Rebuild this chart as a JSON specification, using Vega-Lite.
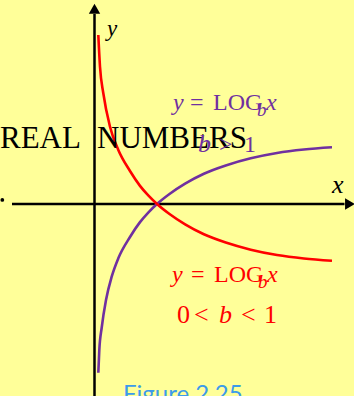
{
  "$schema": "https://vega.github.io/schema/vega-lite/v6.json",
  "width": 354,
  "height": 396,
  "padding": 0,
  "autosize": "none",
  "background": "#FFFF99",
  "config": {"view": {"stroke": null}},
  "datasets": {
    "curves": [
      {"curve": "increasing", "x": 0.061, "y": -3.067},
      {"curve": "increasing", "x": 0.077, "y": -2.655},
      {"curve": "increasing", "x": 0.115, "y": -2.25},
      {"curve": "increasing", "x": 0.184, "y": -1.745},
      {"curve": "increasing", "x": 0.275, "y": -1.322},
      {"curve": "increasing", "x": 0.381, "y": -0.987},
      {"curve": "increasing", "x": 0.568, "y": -0.6},
      {"curve": "increasing", "x": 0.728, "y": -0.33},
      {"curve": "increasing", "x": 0.86, "y": -0.155},
      {"curve": "increasing", "x": 1.0, "y": 0.0},
      {"curve": "increasing", "x": 1.2, "y": 0.182},
      {"curve": "increasing", "x": 1.45, "y": 0.37},
      {"curve": "increasing", "x": 1.75, "y": 0.55},
      {"curve": "increasing", "x": 2.1, "y": 0.7},
      {"curve": "increasing", "x": 2.5, "y": 0.83},
      {"curve": "increasing", "x": 2.92, "y": 0.927},
      {"curve": "increasing", "x": 3.35, "y": 0.99},
      {"curve": "increasing", "x": 3.8, "y": 1.031},
      {"curve": "decreasing", "x": 0.061, "y": 3.073},
      {"curve": "decreasing", "x": 0.088, "y": 2.496},
      {"curve": "decreasing", "x": 0.141, "y": 2.013},
      {"curve": "decreasing", "x": 0.248, "y": 1.405},
      {"curve": "decreasing", "x": 0.381, "y": 0.982},
      {"curve": "decreasing", "x": 0.568, "y": 0.6},
      {"curve": "decreasing", "x": 0.728, "y": 0.33},
      {"curve": "decreasing", "x": 0.86, "y": 0.155},
      {"curve": "decreasing", "x": 1.0, "y": 0.0},
      {"curve": "decreasing", "x": 1.2, "y": -0.182},
      {"curve": "decreasing", "x": 1.45, "y": -0.37},
      {"curve": "decreasing", "x": 1.75, "y": -0.55},
      {"curve": "decreasing", "x": 2.1, "y": -0.7},
      {"curve": "decreasing", "x": 2.5, "y": -0.83},
      {"curve": "decreasing", "x": 2.92, "y": -0.927},
      {"curve": "decreasing", "x": 3.35, "y": -0.99},
      {"curve": "decreasing", "x": 3.8, "y": -1.031}
    ],
    "axes": [
      {"axis": "y", "x": 0, "x2": 0, "y": 3.455, "y2": -3.6},
      {"axis": "x", "x": -1.32, "x2": 4.0, "y": 0, "y2": 0}
    ],
    "arrows": [
      {"dir": "up", "x": 0, "y": 3.551},
      {"dir": "right", "x": 4.088, "y": 0}
    ],
    "dots": [
      {"x": -1.475, "y": 0.073}
    ],
    "labels": [
      {"kind": "title", "series": "black", "text": "REAL", "x": -1.512, "y": 1.018},
      {"kind": "title", "series": "black", "text": "NUMBERS", "x": 0.04, "y": 1.018},
      {"kind": "axisY", "series": "black", "text": "y", "x": 0.2, "y": 3.055},
      {"kind": "axisX", "series": "black", "text": "x", "x": 3.8, "y": 0.2},
      {"kind": "eqItalic", "series": "increasing", "text": "y", "x": 1.256, "y": 1.709},
      {"kind": "eqRoman", "series": "increasing", "text": "=", "x": 1.528, "y": 1.709},
      {"kind": "eqRoman", "series": "increasing", "text": "LOG", "x": 1.896, "y": 1.709},
      {"kind": "eqSub", "series": "increasing", "text": "b", "x": 2.6, "y": 1.6},
      {"kind": "eqItalic", "series": "increasing", "text": "x", "x": 2.744, "y": 1.709},
      {"kind": "condItalicP", "series": "increasing", "text": "b", "x": 1.656, "y": 0.945},
      {"kind": "condRomanP", "series": "increasing", "text": ">", "x": 1.992, "y": 0.945},
      {"kind": "condRomanP", "series": "increasing", "text": "1", "x": 2.392, "y": 0.945},
      {"kind": "eqItalic", "series": "decreasing", "text": "y", "x": 1.24, "y": -1.418},
      {"kind": "eqRoman", "series": "decreasing", "text": "=", "x": 1.544, "y": -1.418},
      {"kind": "eqRoman", "series": "decreasing", "text": "LOG", "x": 1.912, "y": -1.418},
      {"kind": "eqSub", "series": "decreasing", "text": "b", "x": 2.616, "y": -1.527},
      {"kind": "eqItalic", "series": "decreasing", "text": "x", "x": 2.76, "y": -1.418},
      {"kind": "condRomanR", "series": "decreasing", "text": "0", "x": 1.32, "y": -2.164},
      {"kind": "condRomanR", "series": "decreasing", "text": "<", "x": 1.592, "y": -2.164},
      {"kind": "condItalicR", "series": "decreasing", "text": "b", "x": 1.992, "y": -2.164},
      {"kind": "condRomanR", "series": "decreasing", "text": "<", "x": 2.344, "y": -2.164},
      {"kind": "condRomanR", "series": "decreasing", "text": "1", "x": 2.712, "y": -2.164},
      {"kind": "caption", "series": "caption", "text": "Figure 2.25", "x": 0.456, "y": -3.6}
    ]
  },
  "encoding": {
    "x": {"field": "x", "type": "quantitative", "axis": null, "scale": {"domain": [-1.512, 4.152], "nice": false, "zero": false}},
    "y": {"field": "y", "type": "quantitative", "axis": null, "scale": {"domain": [-3.491, 3.709], "nice": false, "zero": false}}
  },
  "layer": [
    {
      "data": {"name": "axes"},
      "mark": {"type": "rule", "color": "#000000", "strokeWidth": 2.5},
      "encoding": {
        "x2": {"field": "x2"},
        "y2": {"field": "y2"}
      }
    },
    {
      "data": {"name": "arrows"},
      "mark": {"type": "point", "filled": true, "opacity": 1, "color": "#000000", "size": 130},
      "encoding": {
        "shape": {"field": "dir", "type": "nominal", "legend": null, "scale": {"domain": ["up", "right"], "range": ["triangle-up", "triangle-right"]}}
      }
    },
    {
      "data": {"name": "dots"},
      "mark": {"type": "point", "shape": "circle", "filled": true, "opacity": 1, "color": "#000000", "size": 14}
    },
    {
      "data": {"name": "curves"},
      "mark": {"type": "line", "strokeWidth": 2.6, "interpolate": "monotone"},
      "encoding": {
        "detail": {"field": "curve", "type": "nominal"},
        "color": {"field": "curve", "type": "nominal", "legend": null, "scale": {"domain": ["increasing", "decreasing", "black", "caption"], "range": ["#7030A0", "#FF0000", "#000000", "#3C9BEA"]}}
      }
    },
    {
      "data": {"name": "labels"},
      "transform": [{"filter": "datum.kind === 'title'"}],
      "mark": {"type": "text", "align": "left", "baseline": "alphabetic", "font": "Liberation Serif", "fontSize": 31},
      "encoding": {
        "text": {"field": "text"},
        "color": {"field": "series", "type": "nominal", "legend": null}
      }
    },
    {
      "data": {"name": "labels"},
      "transform": [{"filter": "datum.kind === 'axisY'"}],
      "mark": {"type": "text", "align": "left", "baseline": "alphabetic", "font": "Liberation Serif", "fontStyle": "italic", "fontSize": 23},
      "encoding": {
        "text": {"field": "text"},
        "color": {"field": "series", "type": "nominal", "legend": null}
      }
    },
    {
      "data": {"name": "labels"},
      "transform": [{"filter": "datum.kind === 'axisX'"}],
      "mark": {"type": "text", "align": "left", "baseline": "alphabetic", "font": "Liberation Serif", "fontStyle": "italic", "fontSize": 26},
      "encoding": {
        "text": {"field": "text"},
        "color": {"field": "series", "type": "nominal", "legend": null}
      }
    },
    {
      "data": {"name": "labels"},
      "transform": [{"filter": "datum.kind === 'eqItalic'"}],
      "mark": {"type": "text", "align": "left", "baseline": "alphabetic", "font": "Liberation Serif", "fontStyle": "italic", "fontSize": 24},
      "encoding": {
        "text": {"field": "text"},
        "color": {"field": "series", "type": "nominal", "legend": null}
      }
    },
    {
      "data": {"name": "labels"},
      "transform": [{"filter": "datum.kind === 'eqRoman'"}],
      "mark": {"type": "text", "align": "left", "baseline": "alphabetic", "font": "Liberation Serif", "fontSize": 24},
      "encoding": {
        "text": {"field": "text"},
        "color": {"field": "series", "type": "nominal", "legend": null}
      }
    },
    {
      "data": {"name": "labels"},
      "transform": [{"filter": "datum.kind === 'eqSub'"}],
      "mark": {"type": "text", "align": "left", "baseline": "alphabetic", "font": "Liberation Serif", "fontStyle": "italic", "fontSize": 19},
      "encoding": {
        "text": {"field": "text"},
        "color": {"field": "series", "type": "nominal", "legend": null}
      }
    },
    {
      "data": {"name": "labels"},
      "transform": [{"filter": "datum.kind === 'condItalicP'"}],
      "mark": {"type": "text", "align": "left", "baseline": "alphabetic", "font": "Liberation Serif", "fontStyle": "italic", "fontSize": 26},
      "encoding": {
        "text": {"field": "text"},
        "color": {"field": "series", "type": "nominal", "legend": null}
      }
    },
    {
      "data": {"name": "labels"},
      "transform": [{"filter": "datum.kind === 'condRomanP'"}],
      "mark": {"type": "text", "align": "left", "baseline": "alphabetic", "font": "Liberation Serif", "fontSize": 24},
      "encoding": {
        "text": {"field": "text"},
        "color": {"field": "series", "type": "nominal", "legend": null}
      }
    },
    {
      "data": {"name": "labels"},
      "transform": [{"filter": "datum.kind === 'condRomanR'"}],
      "mark": {"type": "text", "align": "left", "baseline": "alphabetic", "font": "Liberation Serif", "fontSize": 26},
      "encoding": {
        "text": {"field": "text"},
        "color": {"field": "series", "type": "nominal", "legend": null}
      }
    },
    {
      "data": {"name": "labels"},
      "transform": [{"filter": "datum.kind === 'condItalicR'"}],
      "mark": {"type": "text", "align": "left", "baseline": "alphabetic", "font": "Liberation Serif", "fontStyle": "italic", "fontSize": 26},
      "encoding": {
        "text": {"field": "text"},
        "color": {"field": "series", "type": "nominal", "legend": null}
      }
    },
    {
      "data": {"name": "labels"},
      "transform": [{"filter": "datum.kind === 'caption'"}],
      "mark": {"type": "text", "align": "left", "baseline": "alphabetic", "font": "Lato", "fontSize": 24},
      "encoding": {
        "text": {"field": "text"},
        "color": {"field": "series", "type": "nominal", "legend": null}
      }
    }
  ]
}
